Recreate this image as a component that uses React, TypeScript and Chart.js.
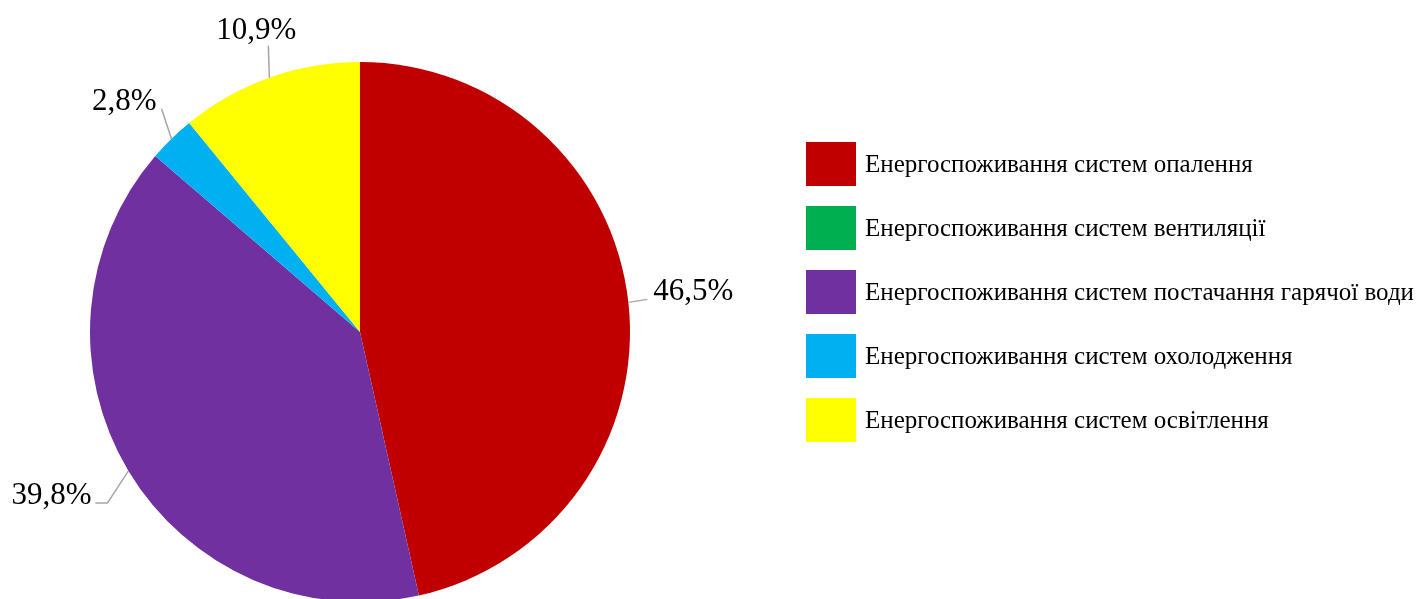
import React, { useEffect, useRef } from "react";
import { Chart, registerables } from "chart.js";

Chart.register(...registerables);

const categories = [
  "Енергоспоживання систем опалення",
  "Енергоспоживання систем вентиляції",
  "Енергоспоживання систем постачання гарячої води",
  "Енергоспоживання систем охолодження",
  "Енергоспоживання систем освітлення",
];
const shares = [46.5, 0, 39.8, 2.8, 10.9];
const sliceColors = ["#C00000", "#00B050", "#7030A0", "#00B0F0", "#FFFF00"];

// leader-line / label placement offsets relative to each slice's outer mid-point
const labelLayout: ({ pts: number[][]; text: number[]; align: CanvasTextAlign } | null)[] = [
  { pts: [[19, -3]], text: [25, -2], align: "left" },
  null,
  { pts: [[-21, 32], [-33, 32]], text: [-37, 33], align: "right" },
  { pts: [[-10, -30]], text: [-15, -29], align: "right" },
  { pts: [[-1, -32]], text: [-13, -39], align: "center" },
];

const SERIF = '"Liberation Serif", "Times New Roman", serif';

const fmt = (v: number) => v.toFixed(1).replace(".", ",") + "%";

const labelPlugin = {
  id: "pieLabels",
  afterDatasetsDraw(chart: any) {
    const ctx = chart.ctx;
    const meta = chart.getDatasetMeta(0);
    ctx.save();
    meta.data.forEach((arc: any, i: number) => {
      const lay = labelLayout[i];
      if (!lay || shares[i] <= 0) return;
      const { x, y, outerRadius, startAngle, endAngle } = arc.getProps(
        ["x", "y", "outerRadius", "startAngle", "endAngle"],
        true
      );
      const mid = (startAngle + endAngle) / 2;
      const ex = x + outerRadius * Math.cos(mid);
      const ey = y + outerRadius * Math.sin(mid);
      ctx.strokeStyle = "#A6A6A6";
      ctx.lineWidth = 1.5;
      ctx.beginPath();
      ctx.moveTo(ex, ey);
      lay.pts.forEach((p) => ctx.lineTo(ex + p[0], ey + p[1]));
      ctx.stroke();
      ctx.fillStyle = "#000";
      ctx.font = `31px ${SERIF}`;
      ctx.textAlign = lay.align;
      ctx.textBaseline = "alphabetic";
      ctx.fillText(fmt(shares[i]), ex + lay.text[0], ey + lay.text[1]);
    });
    ctx.restore();
  },
};

const legendPlugin = {
  id: "customLegend",
  afterDraw(chart: any) {
    const ctx = chart.ctx;
    ctx.save();
    const bx = 806;
    const by0 = 142;
    const step = 64;
    categories.forEach((c, i) => {
      const by = by0 + i * step;
      ctx.fillStyle = sliceColors[i];
      ctx.fillRect(bx, by, 50, 44);
      ctx.fillStyle = "#000";
      ctx.font = `25px ${SERIF}`;
      ctx.textAlign = "left";
      ctx.textBaseline = "alphabetic";
      ctx.fillText(c, bx + 59, by + 30);
    });
    ctx.restore();
  },
};

export default function App() {
  const ref = useRef<HTMLCanvasElement | null>(null);
  useEffect(() => {
    if (!ref.current) return;
    const chart = new Chart(ref.current, {
      type: "pie",
      data: {
        labels: categories,
        datasets: [
          {
            data: shares,
            backgroundColor: sliceColors,
            borderWidth: 0,
          },
        ],
      },
      options: {
        animation: false,
        responsive: true,
        maintainAspectRatio: false,
        layout: { padding: { left: 90, right: 794, top: 62, bottom: 18 } },
        plugins: {
          legend: { display: false },
          tooltip: { enabled: false },
        },
      },
      plugins: [labelPlugin, legendPlugin],
    });
    return () => chart.destroy();
  }, []);
  return (
    <div
      style={{
        position: "fixed",
        left: 0,
        top: 0,
        width: 1424,
        height: 599,
        overflow: "hidden",
        background: "#fff",
      }}
    >
      <div style={{ position: "relative", width: 1424, height: 620 }}>
        <canvas ref={ref} />
      </div>
    </div>
  );
}
